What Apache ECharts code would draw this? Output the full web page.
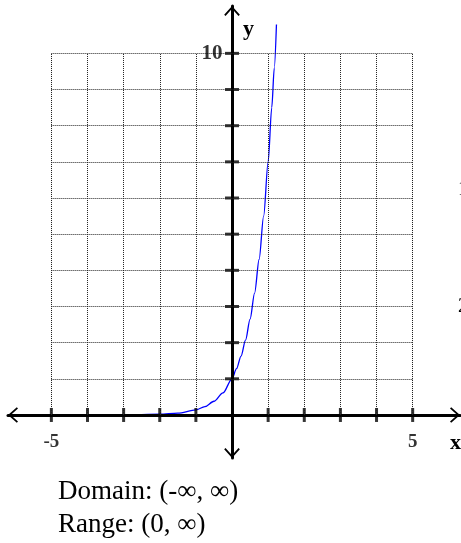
<!DOCTYPE html>
<html>
<head>
<meta charset="utf-8">
<script src="https://cdn.jsdelivr.net/npm/echarts@6/dist/echarts.min.js"></script>
<style>
  html, body { margin: 0; padding: 0; background: #fff; }
  #chart { width: 461px; height: 543px; }
</style>
</head>
<body>
<div id="chart"></div>
<script>
// Exponential growth curve sampled at these x positions
const curveX = [-5.7, -4, -3, -2, -1.5, -1, -0.75, -0.5, -0.25, 0, 0.125, 0.25, 0.375, 0.5, 0.625, 0.75, 0.875, 1, 1.1, 1.17, 1.23];
const curveY = [0.0, 0.0005, 0.003, 0.02, 0.05, 0.14, 0.23, 0.38, 0.61, 1, 1.28, 1.63, 2.07, 2.65, 3.37, 4.3, 5.5, 7.0, 8.5, 9.6, 10.8];

// Grid cells and tick marks
const gridX = [-5, -4, -3, -2, -1, 1, 2, 3, 4, 5];
const gridY = [1, 2, 3, 4, 5, 6, 7, 8, 9, 10];
const gridXMin = -5, gridXMax = 5, gridYMin = 0, gridYMax = 10;
const xTicks = [-5, -4, -3, -2, -1, 1, 2, 3, 4, 5];
const yTicks = [1, 2, 3, 4, 5, 6, 7, 8, 9, 10];

// Labelled tick values
const xTickLabels = [-5, 5];
const yTickLabels = [10];

const SERIF = '"Liberation Serif", "Times New Roman", serif';
const chevron = 'path://M0 9 L8 0 L16 9 L14.6 10.2 L8 2.8 L1.4 10.2 Z';

const chart = echarts.init(document.getElementById('chart'), null, { renderer: 'canvas' });

const gridLines = [];
gridX.concat([gridXMin, gridXMax]).forEach(x => {
  gridLines.push([{ coord: [x, gridYMin] }, { coord: [x, gridYMax] }]);
});
gridY.forEach(y => {
  gridLines.push([{ coord: [gridXMin, y] }, { coord: [gridXMax, y] }]);
});

const axisCommon = {
  type: 'value',
  axisTick: { show: false },
  axisLabel: { show: false },
  splitLine: { show: false },
  axisLine: {
    show: true,
    onZero: true,
    symbol: [chevron, chevron],
    symbolSize: [16, 10],
    symbolOffset: [5, -5],
    lineStyle: { color: '#000', width: 3 }
  },
  z: 3
};

chart.setOption({
  animation: false,
  grid: { left: 8, right: 1, top: 6, bottom: 85, containLabel: false },
  xAxis: Object.assign({}, axisCommon, { min: -6.2, max: 6.31 }),
  yAxis: Object.assign({}, axisCommon, { min: -1.19, max: 11.31 }),
  series: [
    {
      name: 'grid',
      type: 'line',
      data: [],
      silent: true,
      z: 1,
      markLine: {
        silent: true,
        symbol: ['none', 'none'],
        label: { show: false },
        lineStyle: { color: '#222', width: 1, type: [1, 1] },
        data: gridLines
      }
    },
    {
      name: 'curve',
      type: 'line',
      data: curveX.map((x, i) => [x, curveY[i]]),
      smooth: 0.3,
      smoothMonotone: 'x',
      showSymbol: false,
      symbol: 'none',
      lineStyle: { color: '#0000ff', width: 1.3 },
      z: 2
    },
    {
      name: 'xTicks',
      type: 'scatter',
      data: xTicks.map(x => [x, 0]),
      symbol: 'rect',
      symbolSize: [3, 14],
      itemStyle: { color: '#000' },
      z: 4
    },
    {
      name: 'yTicks',
      type: 'scatter',
      data: yTicks.map(y => [0, y]),
      symbol: 'rect',
      symbolSize: [14, 3],
      itemStyle: { color: '#000' },
      z: 4
    },
    {
      name: 'xTickLabels',
      type: 'scatter',
      data: xTickLabels.map(x => [x, 0]),
      symbolSize: 1,
      itemStyle: { color: 'rgba(0,0,0,0)' },
      label: {
        show: true,
        position: 'bottom',
        distance: 17,
        formatter: p => String(p.value[0]),
        fontFamily: SERIF,
        fontWeight: 'bold',
        fontSize: 19,
        color: '#000'
      },
      z: 5
    },
    {
      name: 'yTickLabels',
      type: 'scatter',
      data: yTickLabels.map(y => [0, y]),
      symbolSize: 1,
      itemStyle: { color: 'rgba(0,0,0,0)' },
      label: {
        show: true,
        position: 'left',
        distance: 9,
        formatter: p => String(p.value[1]),
        fontFamily: SERIF,
        fontWeight: 'bold',
        fontSize: 21,
        color: '#000'
      },
      z: 5
    }
  ],
  graphic: [
    { type: 'text', left: 243, top: 18, style: { text: 'y', font: 'bold 22px ' + SERIF, fill: '#000' } },
    { type: 'text', left: 450, top: 432, style: { text: 'x', font: 'bold 22px ' + SERIF, fill: '#000' } },
    { type: 'text', left: 58, top: 478, style: { text: 'Domain: (-\u221E, \u221E)', font: '27px ' + SERIF, fill: '#000' } },
    { type: 'text', left: 58, top: 511, style: { text: 'Range: (0, \u221E)', font: '27px ' + SERIF, fill: '#000' } },
    { type: 'text', x: 458, y: 180, style: { text: '1', font: '20px ' + SERIF, fill: '#000' } },
    { type: 'text', x: 458, y: 297, style: { text: '2', font: '20px ' + SERIF, fill: '#000' } }
  ]
});
</script>
</body>
</html>
